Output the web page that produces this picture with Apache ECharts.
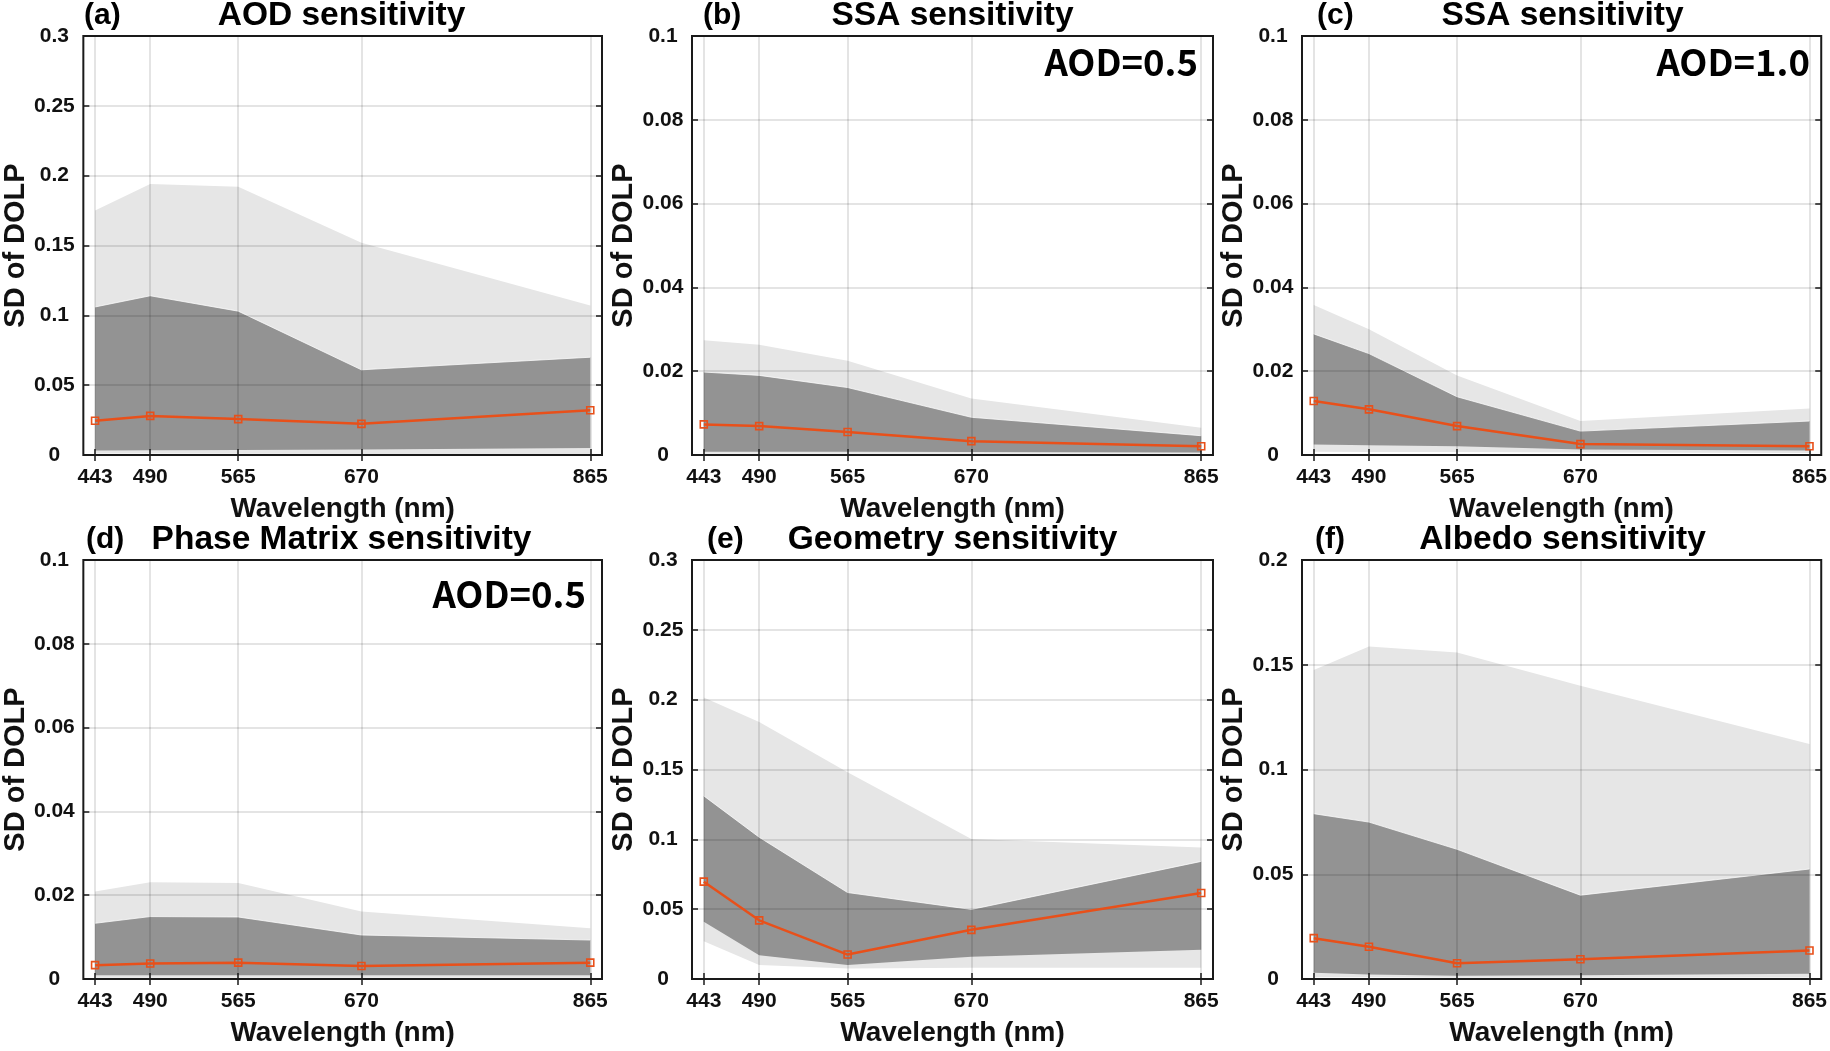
<!DOCTYPE html>
<html><head><meta charset="utf-8">
<script src="https://cdn.jsdelivr.net/npm/echarts@6/dist/echarts.min.js"></script>
<style>html,body{margin:0;padding:0;background:#fff}#c{width:1830px;height:1051px}</style>
</head><body><div id="c"></div>
<script>
// ---------- data ----------
const wavelengths = [443, 490, 565, 670, 865];
const xTicks = [443, 490, 565, 670, 865];
const panelLabels = ['(a)', '(b)', '(c)', '(d)', '(e)', '(f)'];
const panelTitles = ['AOD sensitivity', 'SSA sensitivity', 'SSA sensitivity', 'Phase Matrix sensitivity', 'Geometry sensitivity', 'Albedo sensitivity'];
const panelNotes = ['', 'AOD=0.5', 'AOD=1.0', 'AOD=0.5', '', ''];
const yMax = [0.3, 0.1, 0.1, 0.1, 0.3, 0.2];
const yStep = [0.05, 0.02, 0.02, 0.02, 0.05, 0.05];

// (a) AOD sensitivity
const aOuterHigh = [0.175, 0.194, 0.192, 0.152, 0.107];
const aInnerHigh = [0.106, 0.114, 0.103, 0.061, 0.070];
const aMedian    = [0.0245, 0.028, 0.0257, 0.0223, 0.032];
const aInnerLow  = [0.0032, 0.0034, 0.0036, 0.0040, 0.0050];
const aOuterLow  = [0.0010, 0.0010, 0.0009, 0.0008, 0.0008];
// (b) SSA sensitivity AOD=0.5
const bOuterHigh = [0.0274, 0.0263, 0.0225, 0.0135, 0.0065];
const bInnerHigh = [0.0198, 0.0190, 0.0161, 0.0090, 0.0046];
const bMedian    = [0.0073, 0.0069, 0.0055, 0.0033, 0.0021];
const bInnerLow  = [0.0008, 0.0008, 0.0008, 0.0007, 0.0006];
const bOuterLow  = [0.0003, 0.0003, 0.0003, 0.0003, 0.0003];
// (c) SSA sensitivity AOD=1.0
const cOuterHigh = [0.0358, 0.0300, 0.0190, 0.0081, 0.0111];
const cInnerHigh = [0.0289, 0.0242, 0.0139, 0.0057, 0.0081];
const cMedian    = [0.0129, 0.0109, 0.0069, 0.0026, 0.0021];
const cInnerLow  = [0.0025, 0.0023, 0.0021, 0.0013, 0.0011];
const cOuterLow  = [0.0008, 0.0007, 0.0007, 0.0006, 0.0005];
// (d) Phase Matrix sensitivity
const dOuterHigh = [0.0209, 0.0231, 0.0229, 0.0161, 0.0121];
const dInnerHigh = [0.0133, 0.0149, 0.0148, 0.0105, 0.0093];
const dMedian    = [0.0033, 0.0037, 0.0039, 0.0031, 0.0039];
const dInnerLow  = [0.0009, 0.0009, 0.0009, 0.0009, 0.0009];
const dOuterLow  = [0.0003, 0.0003, 0.0003, 0.0003, 0.0003];
// (e) Geometry sensitivity
const eOuterHigh = [0.2015, 0.184, 0.148, 0.1002, 0.0942];
const eInnerHigh = [0.1311, 0.1015, 0.0619, 0.0498, 0.0842];
const eMedian    = [0.0697, 0.042, 0.0175, 0.0352, 0.0616];
const eInnerLow  = [0.041, 0.017, 0.010, 0.016, 0.021];
const eOuterLow  = [0.027, 0.010, 0.0075, 0.008, 0.008];
// (f) Albedo sensitivity
const fOuterHigh = [0.1475, 0.1587, 0.1559, 0.140, 0.1122];
const fInnerHigh = [0.0789, 0.0749, 0.0619, 0.040, 0.0525];
const fMedian    = [0.0195, 0.0154, 0.0075, 0.0094, 0.0136];
const fInnerLow  = [0.003, 0.0022, 0.0016, 0.0018, 0.0025];
const fOuterLow  = [0.0008, 0.0008, 0.0006, 0.0006, 0.0007];

const panels = [
  [aOuterLow, aInnerLow, aMedian, aInnerHigh, aOuterHigh],
  [bOuterLow, bInnerLow, bMedian, bInnerHigh, bOuterHigh],
  [cOuterLow, cInnerLow, cMedian, cInnerHigh, cOuterHigh],
  [dOuterLow, dInnerLow, dMedian, dInnerHigh, dOuterHigh],
  [eOuterLow, eInnerLow, eMedian, eInnerHigh, eOuterHigh],
  [fOuterLow, fInnerLow, fMedian, fInnerHigh, fOuterHigh]
];

// ---------- layout / style ----------
const colLeft = [81, 692, 1302];
const rowTop = [36, 560];
const plotW = 521, plotH = 419;
const FONT = '"Liberation Sans", Arial, sans-serif';
const TXT = '#111';
const GRIDLINE = 'rgba(0,0,0,0.14)';
const LIGHT = '#e6e6e6', DARK = '#939393', RED = '#e8501a';

const grids = [], xAxes = [], yAxes = [], series = [], graphics = [];

function band(i, lo, hi, color, z, edge) {
  return {
    type: 'custom', xAxisIndex: 2 * i, yAxisIndex: 2 * i, z: z, silent: true,
    data: wavelengths.map((w, k) => [w, lo[k], hi[k]]),
    encode: { x: 0, y: [1, 2] },
    renderItem: function (params, api) {
      if (params.dataIndex !== 0) return null;
      const top = [], pts = [];
      for (let k = 0; k < wavelengths.length; k++) top.push(api.coord([wavelengths[k], hi[k]]));
      for (let k = 0; k < top.length; k++) pts.push(top[k]);
      for (let k = wavelengths.length - 1; k >= 0; k--) pts.push(api.coord([wavelengths[k], lo[k]]));
      const children = [{ type: 'polygon', shape: { points: pts }, style: { fill: color } }];
      if (edge) children.push({ type: 'polyline', shape: { points: top },
        style: { stroke: 'rgba(255,255,255,0.75)', lineWidth: 1, fill: null } });
      return { type: 'group', children: children };
    }
  };
}

for (let i = 0; i < 6; i++) {
  const col = i % 3, row = Math.floor(i / 3);
  grids.push({ left: colLeft[col], top: rowTop[row], width: plotW, height: plotH,
    show: true, borderColor: '#1a1a1a', borderWidth: 2, backgroundColor: 'transparent', z: 12 });
  const tickStyle = { color: '#1a1a1a', width: 1.5 };
  xAxes.push({
    gridIndex: i, type: 'value', min: 433, max: 875, z: 5,
    name: 'Wavelength (nm)', nameLocation: 'middle', nameGap: 40,
    nameTextStyle: { fontSize: 28, fontWeight: 'bold', color: TXT, fontFamily: FONT },
    axisLine: { show: false },
    axisTick: { show: true, inside: true, length: 6, customValues: xTicks, lineStyle: tickStyle },
    axisLabel: { customValues: xTicks, margin: 12, fontSize: 21, fontWeight: 'bold', color: TXT, fontFamily: FONT },
    splitLine: { show: true, lineStyle: { color: GRIDLINE, width: 1.5 } }
  });
  xAxes.push({
    gridIndex: i, type: 'value', position: 'top', min: 433, max: 875, z: 5,
    axisLine: { show: false },
    axisTick: { show: true, inside: true, length: 6, customValues: xTicks, lineStyle: tickStyle },
    axisLabel: { show: false }, splitLine: { show: false }
  });
  yAxes.push({
    gridIndex: i, type: 'value', min: 0, max: yMax[i], interval: yStep[i], z: 5,
    name: 'SD of DOLP', nameLocation: 'middle', nameGap: 53, nameRotate: 90,
    nameTextStyle: { fontSize: 29, fontWeight: 'bold', color: TXT, fontFamily: FONT },
    axisLine: { show: false },
    axisTick: { show: true, inside: true, length: 6, lineStyle: tickStyle },
    axisLabel: { margin: 29, align: 'center', fontSize: 21, fontWeight: 'bold', color: TXT, fontFamily: FONT },
    splitLine: { show: true, lineStyle: { color: GRIDLINE, width: 1.5 } }
  });
  yAxes.push({
    gridIndex: i, type: 'value', position: 'right', min: 0, max: yMax[i], interval: yStep[i], z: 5,
    axisLine: { show: false },
    axisTick: { show: true, inside: true, length: 6, lineStyle: tickStyle },
    axisLabel: { show: false }, splitLine: { show: false }
  });

  const p = panels[i];
  series.push(band(i, p[0], p[4], LIGHT, 1, false));
  series.push(band(i, p[1], p[3], DARK, 2, true));
  series.push({
    type: 'line', xAxisIndex: 2 * i, yAxisIndex: 2 * i, z: 10, silent: true,
    data: wavelengths.map((w, k) => [w, p[2][k]]),
    symbol: 'rect', symbolSize: 7, showAllSymbol: true,
    lineStyle: { color: RED, width: 2.5 },
    itemStyle: { color: 'rgba(0,0,0,0)', borderColor: RED, borderWidth: 1.6 }
  });
}

// titles, panel labels, annotations
const titleY = [16, 540];
const labelX = [84, 703, 1317, 86, 707, 1315];
const noteX = [0, 1198, 1810, 586, 0, 0];
const noteY = [0, 62, 62, 594, 0, 0];
for (let i = 0; i < 6; i++) {
  const col = i % 3, row = Math.floor(i / 3);
  graphics.push({ type: 'text', x: colLeft[col] + plotW / 2, y: titleY[row], z: 20,
    style: { text: panelTitles[i], font: 'bold 33.5px ' + FONT, fill: '#000',
      textAlign: 'center', textVerticalAlign: 'middle', align: 'center', verticalAlign: 'middle' } });
  graphics.push({ type: 'text', x: labelX[i], y: titleY[row], z: 20,
    style: { text: panelLabels[i], font: 'bold 30px ' + FONT, fill: '#000',
      textAlign: 'left', textVerticalAlign: 'middle', align: 'left', verticalAlign: 'middle' } });
  if (panelNotes[i]) {
    graphics.push({ type: 'text', x: noteX[i], y: noteY[i], z: 20,
      style: { text: panelNotes[i], font: 'bold 36.5px "Noto Sans CJK SC", ' + FONT, fill: '#000',
        textAlign: 'right', textVerticalAlign: 'middle', align: 'right', verticalAlign: 'middle' } });
  }
}

const chart = echarts.init(document.getElementById('c'), null, { renderer: 'canvas' });
chart.setOption({
  animation: false,
  backgroundColor: '#fff',
  grid: grids, xAxis: xAxes, yAxis: yAxes, series: series, graphic: graphics
});
</script></body></html>
